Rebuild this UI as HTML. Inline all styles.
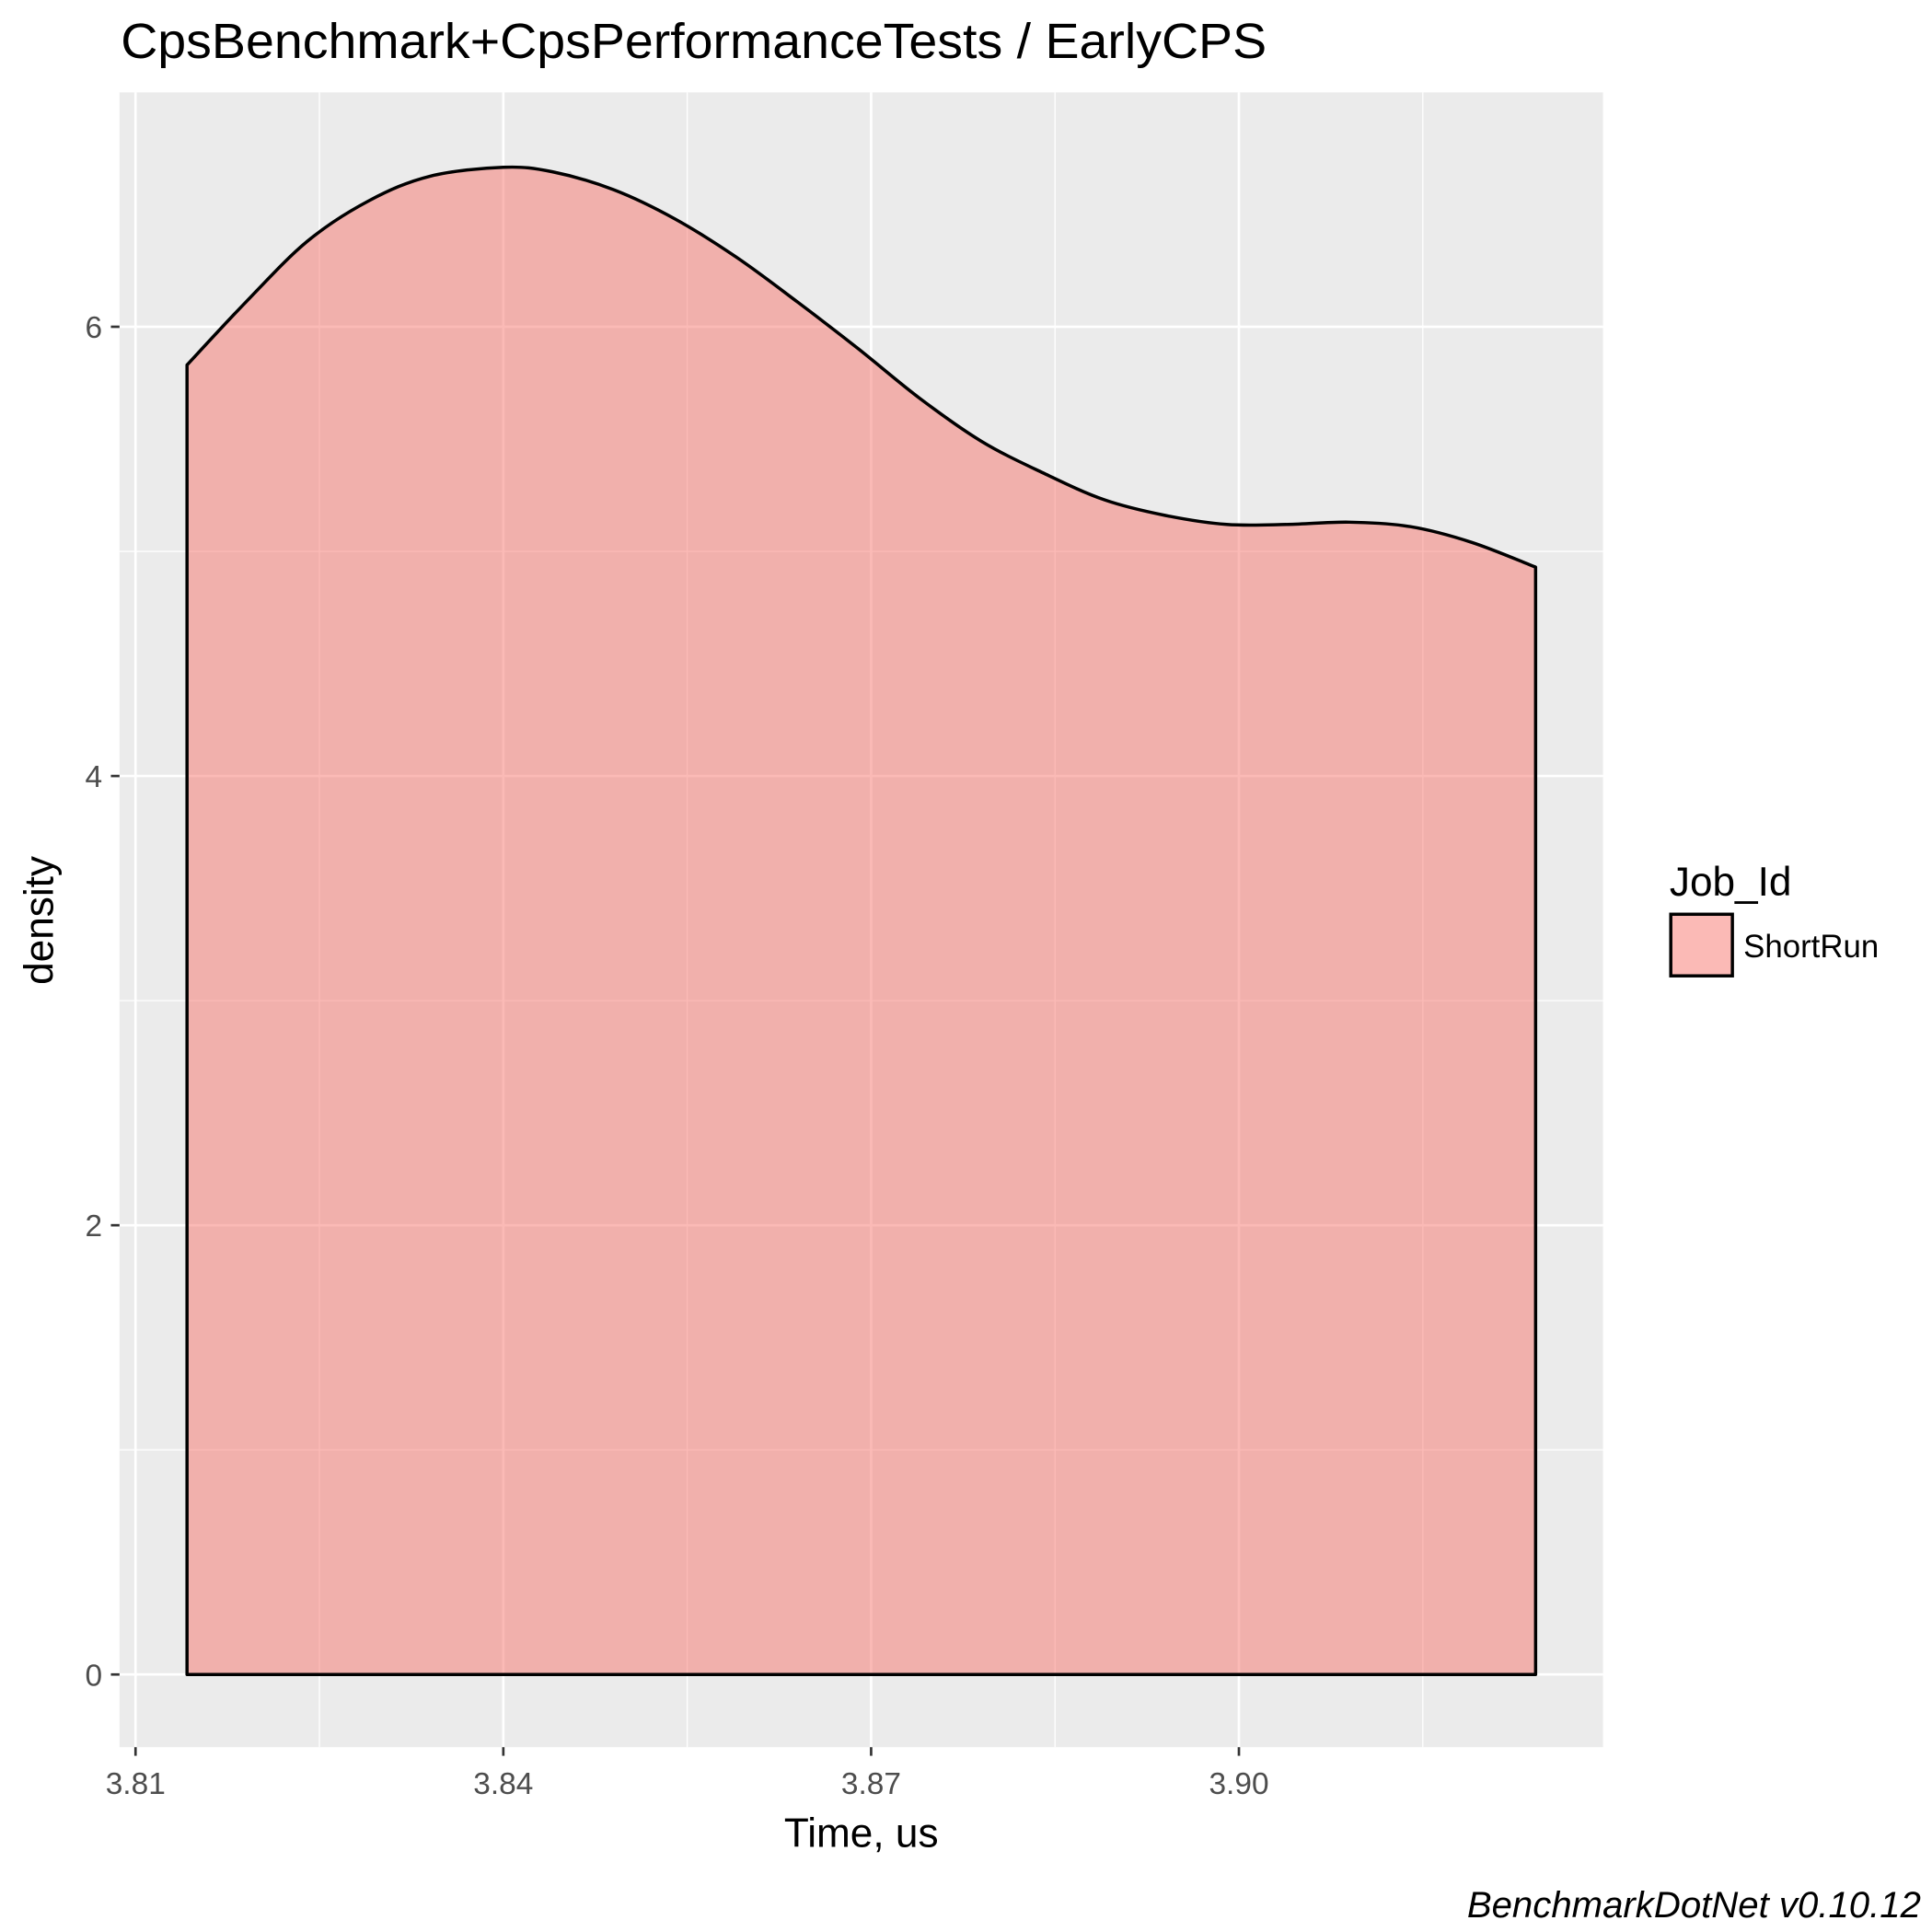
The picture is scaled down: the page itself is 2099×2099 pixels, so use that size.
<!DOCTYPE html>
<html><head><meta charset="utf-8"><style>
html,body{margin:0;padding:0;background:#fff}
svg{display:block;font-family:"Liberation Sans",Arial,sans-serif}
</style></head><body>
<svg id="chart" width="2099" height="2099" viewBox="0 0 1568 1568" xmlns="http://www.w3.org/2000/svg">
<text x="98" y="47" font-size="40" fill="#000" textLength="930" lengthAdjust="spacingAndGlyphs">CpsBenchmark+CpsPerformanceTests / EarlyCPS</text>
<rect x="97" y="75" width="1204" height="1343" fill="#EBEBEB"/>
<g id="grid"></g>
<g id="marks"></g>
<g id="axes"></g>
<text x="699" y="1499" font-size="33" text-anchor="middle" fill="#000">Time, us</text>
<text transform="translate(43,747) rotate(-90)" font-size="33" text-anchor="middle" fill="#000">density</text>
<text x="1355" y="727" font-size="33" fill="#000">Job_Id</text>
<rect x="1356" y="742" width="50" height="50" fill="#F8766D" fill-opacity="0.5" stroke="#000" stroke-width="2.6"/>
<text x="1415" y="777" font-size="26" fill="#000">ShortRun</text>
<text x="1559" y="1556" font-size="30" font-style="italic" text-anchor="end" fill="#000">BenchmarkDotNet v0.10.12</text>
</svg>
<script>
const times=[3.8142,3.8190,3.8240,3.8290,3.8340,3.8400,3.8440,3.8490,3.8540,3.8590,3.8640,3.8690,3.8740,3.8790,3.8840,3.8890,3.8940,3.8990,3.9040,3.9090,3.9140,3.9190,3.9242];
const density=[5.83,6.11,6.38,6.56,6.67,6.71,6.69,6.61,6.48,6.31,6.11,5.90,5.68,5.49,5.35,5.23,5.16,5.12,5.12,5.13,5.11,5.04,4.93];
const xTicks=[3.81,3.84,3.87,3.90];
const xTickLabels=["3.81","3.84","3.87","3.90"];
const xMinor=[3.825,3.855,3.885,3.915];
const yTicks=[0,2,4,6];
const yMinor=[1,3,5];
const NS="http://www.w3.org/2000/svg";
const X=t=>110+(t-3.81)/0.03*298.5;
const Y=d=>1359-d*182.3;
function mk(tag,attrs,parent){const e=document.createElementNS(NS,tag);for(const k in attrs)e.setAttribute(k,attrs[k]);document.getElementById(parent).appendChild(e);return e;}
xMinor.forEach(v=>{const l=mk('line',{x1:X(v),x2:X(v),y1:75,y2:1418,stroke:'#fff','stroke-width':1},'grid');

});
yMinor.forEach(v=>{const l=mk('line',{x1:97,x2:1301,y1:Y(v),y2:Y(v),stroke:'#fff','stroke-width':1},'grid');

});
xTicks.forEach((v,i)=>{const l=mk('line',{x1:X(v),x2:X(v),y1:75,y2:1418,stroke:'#fff','stroke-width':2},'grid');


const t=mk('line',{x1:X(v),x2:X(v),y1:1418,y2:1425,stroke:'#333','stroke-width':2},'axes');


const tx=mk('text',{x:X(v),y:1456,'font-size':25,'text-anchor':'middle',fill:'#4D4D4D'},'axes');tx.textContent=xTickLabels[i];

});
yTicks.forEach(v=>{const l=mk('line',{x1:97,x2:1301,y1:Y(v),y2:Y(v),stroke:'#fff','stroke-width':2},'grid');


const t=mk('line',{x1:90,x2:97,y1:Y(v),y2:Y(v),stroke:'#333','stroke-width':2},'axes');


const tx=mk('text',{x:83,y:Y(v)+9,'font-size':25,'text-anchor':'end',fill:'#4D4D4D'},'axes');tx.textContent=String(v);

});
const pts=times.map((t,i)=>[X(t),Y(density[i])]);
let d=`M${X(times[0])},${Y(0)} L${pts[0][0]},${pts[0][1]}`;
for(let i=0;i<pts.length-1;i++){const p0=pts[Math.max(0,i-1)],p1=pts[i],p2=pts[i+1],p3=pts[Math.min(pts.length-1,i+2)];
const c1=[p1[0]+(p2[0]-p0[0])/6,p1[1]+(p2[1]-p0[1])/6],c2=[p2[0]-(p3[0]-p1[0])/6,p2[1]-(p3[1]-p1[1])/6];
d+=` C${c1[0]},${c1[1]} ${c2[0]},${c2[1]} ${p2[0]},${p2[1]}`;}
d+=` L${X(times[times.length-1])},${Y(0)} Z`;
const area=mk('path',{d:d,fill:'#F8766D','fill-opacity':0.5,stroke:'#000','stroke-width':2.6,'stroke-linejoin':'round'},'marks');


</script>
</body></html>
